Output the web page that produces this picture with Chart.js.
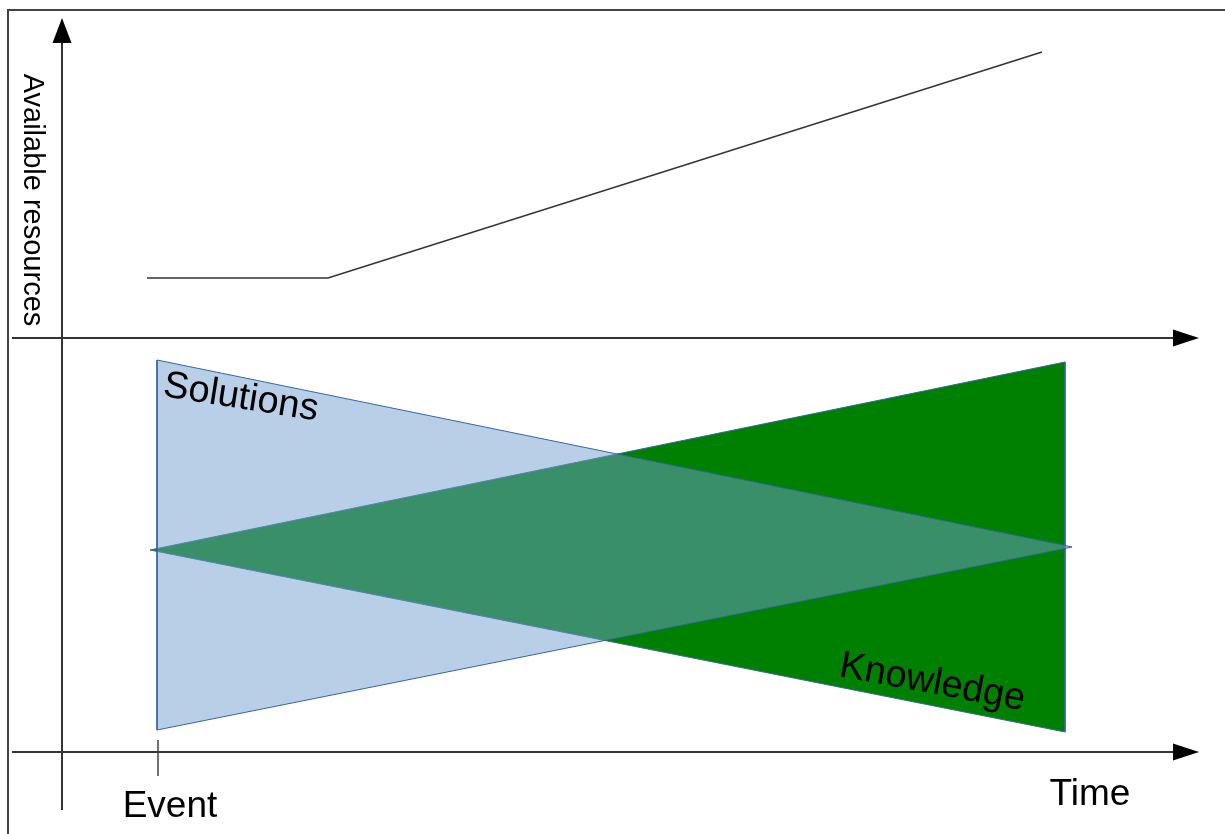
<!DOCTYPE html>
<html>
<head>
<meta charset="utf-8">
<script src="https://cdn.jsdelivr.net/npm/chart.js@4/dist/chart.umd.min.js"></script>
<style>
  html, body { margin: 0; padding: 0; background: #fff; }
  canvas { display: block; }
</style>
</head>
<body>
<canvas id="chart" width="1225" height="834"></canvas>
<script>
// resources over time (upper panel)
const resourceTime = [85, 266, 980];
const resourceLevel = [474, 474, 700];

// solutions triangle (wide at the event, narrowing with time)
const solutionsTime = [95, 95, 1010, 95];
const solutionsLevel = [392, 22, 205, 392];

// knowledge triangle (narrow at the event, widening with time)
const knowledgeTime = [88, 1003, 1003, 88];
const knowledgeLevel = [202, 390, 20, 202];

const eventTime = 96;
const axisTitles = ['Time', 'Available resources'];
const eventLabel = 'Event';
const shapeLabels = ['Solutions', 'Knowledge'];

function toPoints(xs, ys) {
    return xs.map((x, i) => ({ x: x, y: ys[i] }));
}

const font = '"Liberation Sans", Arial, sans-serif';

const diagramPlugin = {
    id: 'diagram',
    beforeDatasetsDraw(chart) {
        const ctx = chart.ctx;
        const x = chart.scales.x, y = chart.scales.y;
        const x0 = x.getPixelForValue(0);
        const upper = y.getPixelForValue(414);
        const lower = y.getPixelForValue(0);
        ctx.save();
        // frame
        ctx.strokeStyle = '#444';
        ctx.lineWidth = 2;
        ctx.beginPath();
        ctx.moveTo(8, 834);
        ctx.lineTo(8, 10);
        ctx.lineTo(1225, 10);
        ctx.stroke();

        // axes
        ctx.strokeStyle = '#333';
        ctx.lineWidth = 2;
        ctx.beginPath();
        ctx.moveTo(x0, 810);
        ctx.lineTo(x0, 40);
        ctx.moveTo(12, upper);
        ctx.lineTo(1176, upper);
        ctx.moveTo(12, lower);
        ctx.lineTo(1176, lower);
        ctx.stroke();

        // event tick
        const ex = x.getPixelForValue(eventTime);
        ctx.strokeStyle = '#444';
        ctx.lineWidth = 1.5;
        ctx.beginPath();
        ctx.moveTo(ex, lower - 12);
        ctx.lineTo(ex, lower + 24);
        ctx.stroke();

        // arrow heads
        ctx.fillStyle = '#000';
        ctx.beginPath();
        ctx.moveTo(x0, 18);
        ctx.lineTo(x0 - 9.5, 43);
        ctx.lineTo(x0 + 9.5, 43);
        ctx.closePath();
        ctx.fill();
        [upper, lower].forEach(py => {
            ctx.beginPath();
            ctx.moveTo(1199, py);
            ctx.lineTo(1173, py - 8.5);
            ctx.lineTo(1173, py + 8.5);
            ctx.closePath();
            ctx.fill();
        });

        // axis texts
        ctx.fillStyle = '#000';
        ctx.font = '37px ' + font;
        ctx.textAlign = 'center';
        ctx.textBaseline = 'alphabetic';
        ctx.fillText(axisTitles[0], 1090, 805);
        ctx.fillText(eventLabel, ex + 12, 817);

        ctx.save();
        ctx.translate(24, 200);
        ctx.rotate(Math.PI / 2);
        ctx.font = '29px ' + font;
        ctx.textAlign = 'center';
        ctx.fillText(axisTitles[1], 0, 0);
        ctx.restore();
        ctx.restore();
    },
    afterDatasetsDraw(chart) {
        const ctx = chart.ctx;
        const x = chart.scales.x, y = chart.scales.y;
        ctx.save();
        ctx.fillStyle = '#000';
        ctx.font = '38px ' + font;
        ctx.textAlign = 'left';
        ctx.textBaseline = 'alphabetic';
        const spots = [[100, 356, 9], [776, 76, 10.5]];
        shapeLabels.forEach((t, i) => {
            ctx.save();
            ctx.translate(x.getPixelForValue(spots[i][0]), y.getPixelForValue(spots[i][1]));
            ctx.rotate(spots[i][2] * Math.PI / 180);
            ctx.fillText(t, 0, 0);
            ctx.restore();
        });
        ctx.restore();
    }
};

new Chart(document.getElementById('chart').getContext('2d'), {
    type: 'scatter',
    data: {
        datasets: [
            {
                label: 'Solutions',
                data: toPoints(solutionsTime, solutionsLevel),
                showLine: true,
                fill: 'shape',
                backgroundColor: 'rgba(114, 159, 207, 0.5)',
                borderColor: '#3465a4',
                borderWidth: 1,
                pointRadius: 0,
                order: 0
            },
            {
                label: 'Knowledge',
                data: toPoints(knowledgeTime, knowledgeLevel),
                showLine: true,
                fill: 'shape',
                backgroundColor: '#008000',
                borderColor: '#3465a4',
                borderWidth: 1,
                pointRadius: 0,
                order: 1
            },
            {
                label: 'Available resources',
                data: toPoints(resourceTime, resourceLevel),
                showLine: true,
                fill: false,
                borderColor: '#333',
                borderWidth: 1.5,
                pointRadius: 0,
                order: 2
            }
        ]
    },
    options: {
        responsive: false,
        animation: false,
        layout: { padding: 0 },
        scales: {
            x: { type: 'linear', min: -62, max: 1163, display: false },
            y: { type: 'linear', min: -82, max: 752, display: false }
        },
        plugins: {
            legend: { display: false },
            tooltip: { enabled: false }
        }
    },
    plugins: [diagramPlugin]
});
</script>
</body>
</html>
